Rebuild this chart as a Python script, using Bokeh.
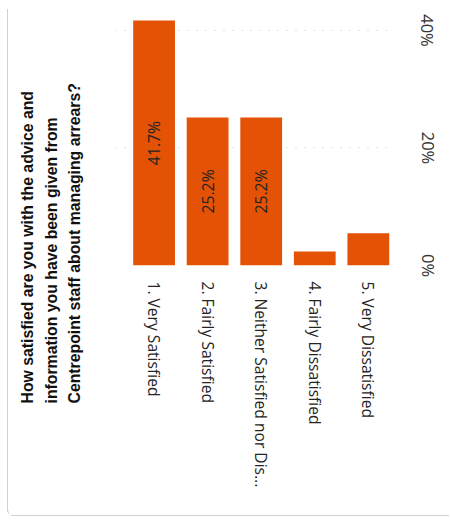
import math
from bokeh.plotting import figure
from bokeh.models import (Range1d, FixedTicker, LinearAxis, Title,
                          PrintfTickFormatter, ColumnDataSource)
from bokeh.core.properties import value
from bokeh.embed import file_html
from bokeh.resources import INLINE

categories = ["1. Very Satisfied", "2. Fairly Satisfied",
              "3. Neither Satisfied nor Dis...", "4. Fairly Dissatisfied",
              "5. Very Dissatisfied"]
percent = [41.7, 25.2, 25.2, 2.4, 5.5]
shown_labels = ["41.7%", "25.2%", "25.2%", "", ""]
y_ticks = [0, 20, 40]
title_lines = ["How satisfied are you with the advice and",
               "information you have been given from",
               "Centrepoint staff about managing arrears?"]

idx = list(range(len(categories)))
src = ColumnDataSource(dict(x=idx, top=percent, mid=[v / 2 for v in percent],
                            lab=shown_labels))

p = figure(width=442, height=507, output_backend="svg", toolbar_location=None,
           x_range=Range1d(-0.72, len(categories) - 0.53),
           y_range=Range1d(0, 43.06),
           x_axis_location=None, y_axis_location=None,
           min_border_left=0, min_border_right=57, min_border_top=4,
           min_border_bottom=250)
p.outline_line_color = None
p.xgrid.grid_line_color = None

p.vbar(x="x", top="top", width=0.78, source=src, fill_color="#E35205",
       line_color=None)
p.text(x="x", y="mid", text="lab", source=src, angle=math.pi / 2,
       text_align="center", text_baseline="middle", text_color="#252423",
       text_font=value("Open Sans"), text_font_size="15.8px")

# right y axis
yax = LinearAxis(ticker=FixedTicker(ticks=y_ticks),
                 formatter=PrintfTickFormatter(format="%d%%"))
yax.axis_line_color = None
yax.major_tick_line_color = None
yax.minor_tick_line_color = None
yax.major_label_orientation = "vertical"
yax.major_label_standoff = 17
yax.major_label_text_font = "Open Sans"
yax.major_label_text_font_size = "16.5px"
yax.major_label_text_color = "#333333"
p.add_layout(yax, "right")

p.ygrid.ticker = FixedTicker(ticks=y_ticks)
p.ygrid.grid_line_color = "#c8c8c8"
p.ygrid.grid_line_dash = "1 8"
p.ygrid.grid_line_width = 1

# bottom category axis
xax = LinearAxis(ticker=FixedTicker(ticks=idx),
                 major_label_overrides={i: c for i, c in zip(idx, categories)})
xax.axis_line_color = None
xax.major_tick_line_color = None
xax.minor_tick_line_color = None
xax.major_label_orientation = "vertical"
xax.major_label_standoff = 10
xax.major_label_text_font = "Open Sans"
xax.major_label_text_font_size = "15.6px"
xax.major_label_text_color = "#252423"
p.add_layout(xax, "below")

# spacer between frame and title, then the title itself (stacked outward)
p.add_layout(Title(text=" ", text_font_size="10px", standoff=11), "left")
p.add_layout(Title(text="\n".join(title_lines), align="left", offset=-138,
                   text_font="Liberation Sans", text_font_style="bold",
                   text_font_size="15.8px", text_color="#111111", standoff=17,
                   text_line_height=1.37), "left")

p.styles = {"margin-left": "8px", "margin-top": "8px",
            "box-shadow": "-1px 1px 0 0 #d0d0d0",
            "border-bottom-left-radius": "6px"}

open("out.html", "w").write(file_html(p, INLINE))
